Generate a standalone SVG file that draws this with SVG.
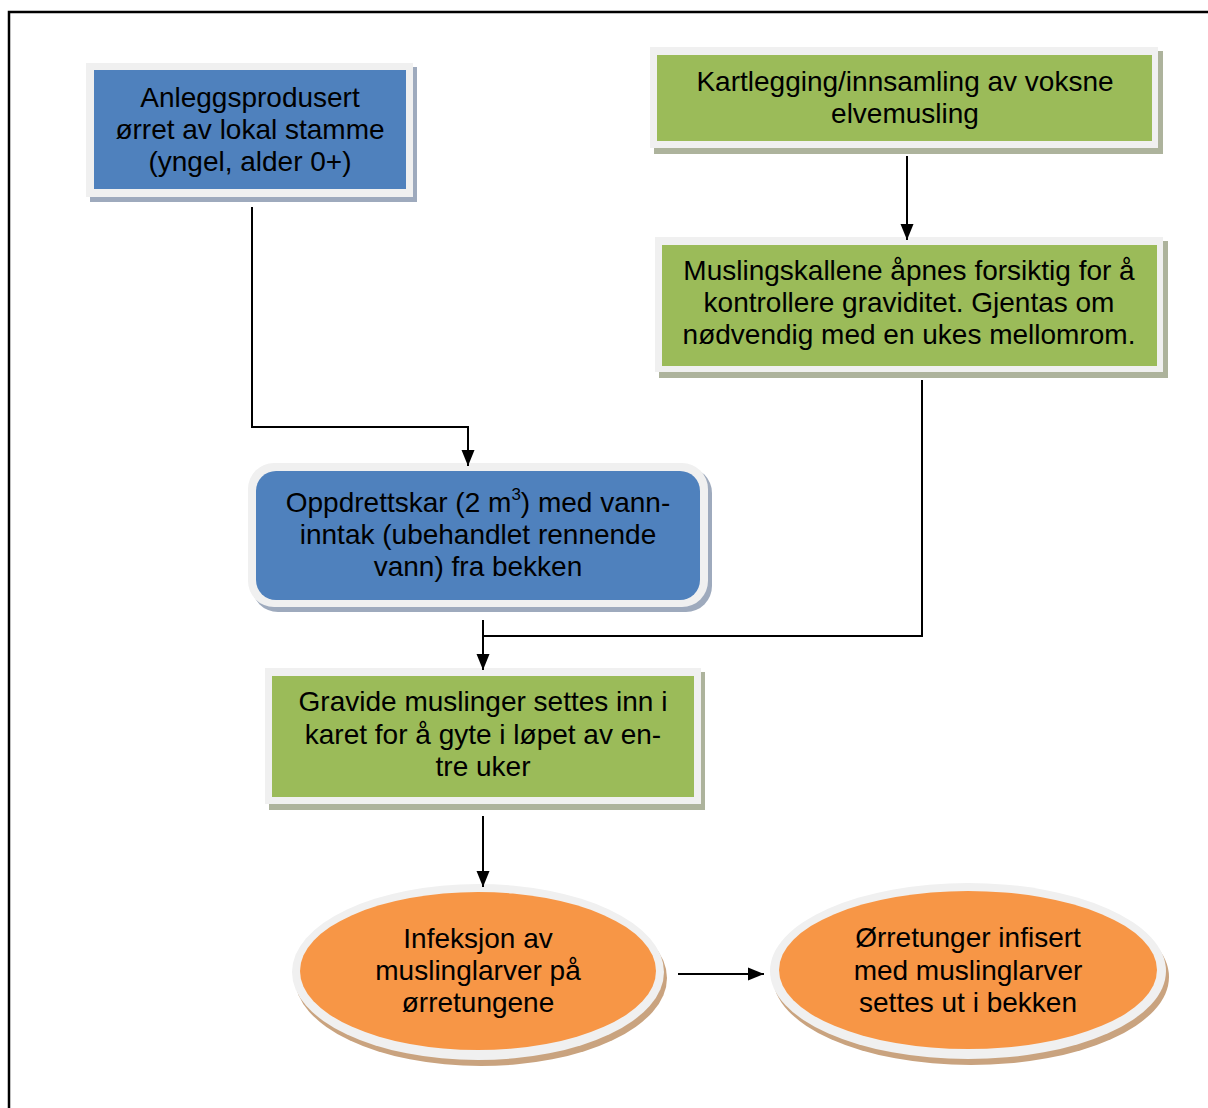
<svg xmlns="http://www.w3.org/2000/svg" width="1208" height="1108" viewBox="0 0 1208 1108">
<defs>
<style>
.t{font-family:"Liberation Sans",Arial,sans-serif;font-size:28px;fill:#000;text-anchor:middle}
.frame{fill:#f0f0f0}
.blue{fill:#4f81bd}
.green{fill:#9bbb59}
.orange{fill:#f79646}
.shb{fill:#9eaabd}
.shg{fill:#adb39c}
.sho{fill:#c9a37f}
.c{fill:none;stroke:#000;stroke-width:2}
</style>
<marker id="ah" markerUnits="userSpaceOnUse" markerWidth="16" markerHeight="16" viewBox="0 0 16 16" refX="16" refY="8" orient="auto">
<path d="M0,1.5 L16,8 L0,14.5 z" fill="#000"/>
</marker>
</defs>
<rect width="1208" height="1108" fill="#fff"/>
<path d="M9,1108 V12 H1208" fill="none" stroke="#000" stroke-width="2.5"/>

<g id="n1">
<rect class="shb" x="90" y="67" width="327" height="135"/>
<rect class="frame" x="86" y="63" width="327" height="134"/>
<rect class="blue" x="94" y="70" width="312" height="119"/>
<text class="t" x="250" y="107">Anleggsprodusert</text>
<text class="t" x="250" y="139">ørret av lokal stamme</text>
<text class="t" x="250" y="171">(yngel, alder 0+)</text>
</g>

<g id="n2">
<rect class="shg" x="654" y="51" width="509" height="103"/>
<rect class="frame" x="650" y="47" width="508" height="101"/>
<rect class="green" x="657" y="55" width="495" height="86"/>
<text class="t" x="905" y="91">Kartlegging/innsamling av voksne</text>
<text class="t" x="905" y="123">elvemusling</text>
</g>

<g id="n3">
<rect class="shg" x="659" y="241" width="509" height="137"/>
<rect class="frame" x="655" y="237" width="508" height="135"/>
<rect class="green" x="662" y="245" width="495" height="121"/>
<text class="t" x="909" y="280">Muslingskallene åpnes forsiktig for å</text>
<text class="t" x="909" y="312">kontrollere graviditet. Gjentas om</text>
<text class="t" x="909" y="344">nødvendig med en ukes mellomrom.</text>
</g>

<g id="n4">
<rect class="shb" x="252" y="467" width="460" height="145" rx="26"/>
<rect class="frame" x="248" y="463" width="460" height="144" rx="26"/>
<rect class="blue" x="256" y="471" width="444" height="129" rx="20"/>
<text class="t" x="478" y="512">Oppdrettskar (2 m<tspan font-size="17" dy="-12">3</tspan><tspan dy="12">) med vann-</tspan></text>
<text class="t" x="478" y="544">inntak (ubehandlet rennende</text>
<text class="t" x="478" y="576">vann) fra bekken</text>
</g>

<g id="n5">
<rect class="shg" x="269" y="672" width="436" height="138"/>
<rect class="frame" x="265" y="668" width="436" height="136"/>
<rect class="green" x="272" y="676" width="422" height="121"/>
<text class="t" x="483" y="711">Gravide muslinger settes inn i</text>
<text class="t" x="483" y="744">karet for å gyte i løpet av en-</text>
<text class="t" x="483" y="776">tre uker</text>
</g>

<g id="n6">
<ellipse class="sho" cx="481" cy="978" rx="186" ry="88"/>
<ellipse class="frame" cx="478" cy="972" rx="186" ry="88"/>
<ellipse class="orange" cx="478" cy="971" rx="178" ry="79"/>
<text class="t" x="478" y="948">Infeksjon av</text>
<text class="t" x="478" y="980">muslinglarver på</text>
<text class="t" x="478" y="1012">ørretungene</text>
</g>

<g id="n7">
<ellipse class="sho" cx="971" cy="977" rx="198" ry="88"/>
<ellipse class="frame" cx="968" cy="971" rx="198" ry="88"/>
<ellipse class="orange" cx="968" cy="970" rx="189" ry="79"/>
<text class="t" x="968" y="947">Ørretunger infisert</text>
<text class="t" x="968" y="980">med muslinglarver</text>
<text class="t" x="968" y="1012">settes ut i bekken</text>
</g>

<g id="connectors">
<path class="c" d="M252,207 V427 H468 V466" marker-end="url(#ah)"/>
<path class="c" d="M907,156 V240" marker-end="url(#ah)"/>
<path class="c" d="M922,380 V636 H483"/>
<path class="c" d="M483,620 V670" marker-end="url(#ah)"/>
<path class="c" d="M483,816 V887" marker-end="url(#ah)"/>
<path class="c" d="M678,974 H764" marker-end="url(#ah)"/>
</g>
</svg>
